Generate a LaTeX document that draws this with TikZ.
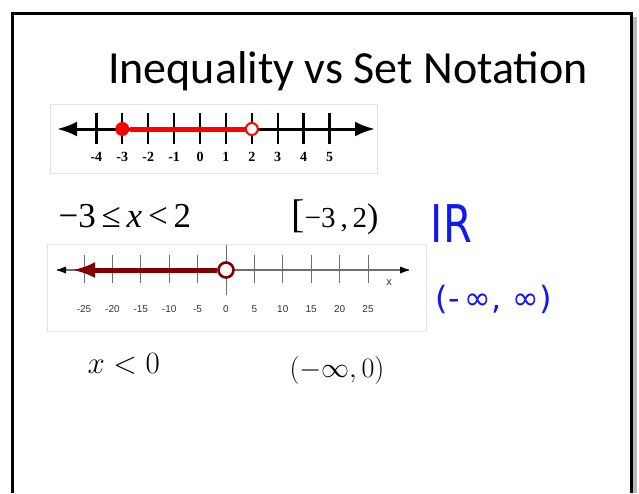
\RequirePackage{fix-cm}
\documentclass[tikz,border=0pt]{standalone}
\usepackage{fontspec}
\setmainfont{Liberation Serif}
\newfontfamily\titlefont{Carlito}
\newfontfamily\handfont{DejaVu Sans}
\newfontfamily\axisfont{Liberation Sans}
\usetikzlibrary{arrows.meta, positioning}
\definecolor{maroonray}{RGB}{128,0,0}
\definecolor{inkblue}{RGB}{15,25,240}
\definecolor{tickgray}{RGB}{110,110,110}

\begin{document}
\begin{tikzpicture}[x=1pt, y=-1pt,
    panel/.style={draw=gray!22, line width=0.8pt, fill=white},
    bigtick/.style={line width=2.3pt},
    smalltick/.style={tickgray, line width=0.9pt},
    hand/.style={text=inkblue, anchor=base west}]

    % -----------------------------------------------------------------
    % 1. KHUNG TRANG CHIẾU
    % -----------------------------------------------------------------
    \useasboundingbox (0,0) rectangle (639,493);
    \fill[gray!55] (633,17) rectangle (637,493);
    \draw[line width=3pt] (12,493) -- (12,13) -- (631,13) -- (631,493);

    \node[font=\titlefont\fontsize{46}{52}\selectfont, anchor=base] (title) at (348,83) {Inequality vs Set Notation};

    % -----------------------------------------------------------------
    % 2. TRỤC SỐ THỨ NHẤT: -3 <= x < 2
    % -----------------------------------------------------------------
    \draw[panel] (50,104) rectangle (377,173);
    \draw[line width=3pt, {Latex[length=20pt,width=15pt]}-{Latex[length=20pt,width=15pt]}] (57,129) -- (375,129);
    \foreach \n in {-4,...,5} {
        \draw[bigtick] ({200+25.9*\n},113) -- ({200+25.9*\n},144);
        \node[font=\bfseries\fontsize{14}{14}\selectfont] (lab\n) at ({200+25.9*\n},157) {\n};
    }
    \node[circle, fill=red, inner sep=0pt, minimum size=14pt] (lo) at (122.3,129) {};
    \node[circle, draw=red, fill=white, line width=2pt, inner sep=0pt, minimum size=12pt] (hi) at (251.8,129) {};
    \draw[red, line width=5pt] (lo) -- (hi);

    % Bất đẳng thức và tập hợp
    \node[anchor=base west, font=\fontsize{35}{36}\selectfont] (ineqA) at (55,227) {−3\,≤\,\textit{x}\,<\,2};
    \node[anchor=base west, font=\fontsize{29}{36}\selectfont] (setA) at (288,227) {{\fontsize{40}{40}\selectfont[}−3\,,\,2{\fontsize{34}{34}\selectfont)}};

    % -----------------------------------------------------------------
    % 3. TRỤC SỐ THỨ HAI: x < 0
    % -----------------------------------------------------------------
    \draw[panel] (47,244) rectangle (426,331);
    \draw[tickgray, line width=1.2pt] (57,270) -- (409,270);
    \fill (57,270) -- (66,266.5) -- (66,273.5) -- cycle;
    \fill (409,270) -- (400,266.5) -- (400,273.5) -- cycle;
    \foreach \n in {-5,...,5} {
        \draw[smalltick] ({226+28.4*\n},255) -- ({226+28.4*\n},283);
        \node[font=\axisfont\fontsize{10}{10}\selectfont, text=black!80] (val\n) at ({226+28.4*\n},309) {\pgfmathtruncatemacro\v{5*\n}\v};
    }
    \draw[smalltick] (226,245) -- (226,295);
    \node[font=\axisfont\fontsize{11}{11}\selectfont, text=black!80] (xlab) at (389,283) {x};

    \coordinate (raytip) at (72,270);
    \node[circle, draw=maroonray, fill=white, line width=2.6pt, inner sep=0pt, minimum size=15pt] (zero) at (226,270) {};
    \draw[maroonray, line width=5pt, -{Latex[length=23pt,width=16pt]}] (zero.west) -- (raytip);

    \node[anchor=base west, font=\fontsize{31}{36}\selectfont] (ineqB) at (84,373) {$x<0$};
    \node[anchor=base west, font=\fontsize{28}{32}\selectfont] (setB) at (286,377) {$(-\infty,0)$};

    % -----------------------------------------------------------------
    % 4. GHI CHÚ VIẾT TAY
    % -----------------------------------------------------------------
    \node[hand, font=\handfont\fontsize{52}{52}\selectfont, xscale=0.8] (reals) at (428,242) {IR};
    \node[hand, font=\handfont\fontsize{32}{32}\selectfont] (allreals) at (432,309) {(-\,∞,\,\,∞)};

\end{tikzpicture}
\end{document}
